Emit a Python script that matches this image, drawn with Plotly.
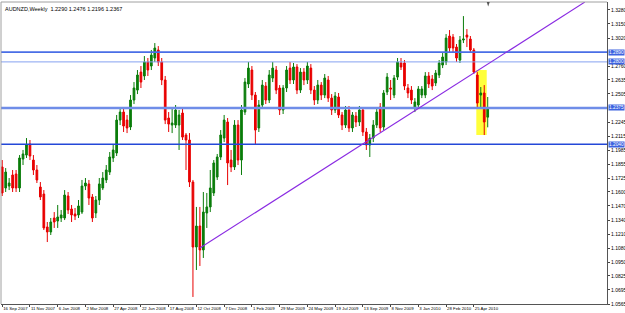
import plotly.graph_objects as go
import pandas as pd

# Weekly AUDNZD OHLC, first bar week of 16 Sep 2007
opens = [1.1830,1.1636,1.1654,1.1756,1.1765,1.1636,1.1903,1.1940,1.2042,1.1894,
         1.1802,1.1645,1.1580,1.1276,1.1230,1.1359,1.1331,1.1359,1.1359,1.1562,
         1.1442,1.1396,1.1387,1.1414,1.1654,1.1673,1.1553,1.1405,1.1525,1.1636,
         1.1710,1.1783,1.1913,1.1959,1.2263,1.2337,1.2263,1.2199,1.2448,1.2540,
         1.2706,1.2670,1.2799,1.2762,1.2836,1.2910,1.2799,1.2633,1.2282,1.2217,
         1.2217,1.2217,1.2328,1.2125,1.2079,1.1691,1.1091,1.1285,1.1064,1.1405,
         1.1461,1.1590,1.1737,1.1922,1.2097,1.2245,1.1894,1.1830,1.2217,1.1894,
         1.2337,1.2596,1.2725,1.2494,1.2190,1.2402,1.2577,1.2448,1.2651,1.2725,
         1.2559,1.2356,1.2559,1.2743,1.2633,1.2753,1.2540,1.2706,1.2633,1.2743,
         1.2540,1.2448,1.2586,1.2494,1.2633,1.2466,1.2356,1.2476,1.2310,1.2217,
         1.2356,1.2190,1.2300,1.2245,1.2356,1.2153,1.2033,1.2097,1.2217,1.2383,
         1.2199,1.2522,1.2559,1.2494,1.2660,1.2790,1.2790,1.2559,1.2540,1.2374,
         1.2402,1.2494,1.2494,1.2670,1.2642,1.2605,1.2679,1.2771,1.2799,1.3039,
         1.3029,1.2937,1.2817,1.3002,1.3048,1.3011,1.2910,1.2679,1.2494,1.2513,
         1.2290]
highs = [1.1894,1.1820,1.1728,1.1802,1.1802,1.1940,1.1987,1.2097,1.2079,1.1940,
         1.1848,1.1691,1.1617,1.1322,1.1359,1.1414,1.1479,1.1433,1.1617,1.1599,
         1.1479,1.1451,1.1525,1.1710,1.1728,1.1710,1.1580,1.1562,1.1728,1.1783,
         1.1848,1.1968,1.2042,1.2310,1.2374,1.2374,1.2310,1.2494,1.2614,1.2725,
         1.2762,1.2854,1.2836,1.2910,1.2974,1.2946,1.2836,1.2670,1.2337,1.2374,
         1.2402,1.2356,1.2374,1.2143,1.2143,1.1710,1.1461,1.1461,1.1599,1.1590,
         1.1802,1.1894,1.1950,1.2171,1.2310,1.2282,1.1987,1.2263,1.2263,1.2402,
         1.2651,1.2799,1.2762,1.2522,1.2448,1.2633,1.2614,1.2725,1.2799,1.2762,
         1.2586,1.2586,1.2762,1.2799,1.2790,1.2780,1.2743,1.2743,1.2799,1.2780,
         1.2577,1.2633,1.2614,1.2688,1.2670,1.2503,1.2522,1.2513,1.2337,1.2393,
         1.2393,1.2337,1.2337,1.2393,1.2383,1.2190,1.2134,1.2263,1.2374,1.2420,
         1.2540,1.2697,1.2633,1.2679,1.2836,1.2836,1.2817,1.2596,1.2577,1.2466,
         1.2577,1.2577,1.2706,1.2706,1.2679,1.2725,1.2817,1.2882,1.3057,1.3094,
         1.3057,1.2965,1.3039,1.3223,1.3103,1.3039,1.2928,1.2706,1.2568,1.2586,
         1.2476]
lows = [1.1562,1.1599,1.1617,1.1599,1.1599,1.1599,1.1848,1.1913,1.1894,1.1756,
        1.1682,1.1525,1.1248,1.1137,1.1202,1.1267,1.1267,1.1322,1.1340,1.1396,
        1.1322,1.1340,1.1359,1.1396,1.1617,1.1479,1.1322,1.1359,1.1479,1.1617,
        1.1682,1.1756,1.1876,1.1931,1.2217,1.2153,1.2143,1.2171,1.2411,1.2503,
        1.2559,1.2633,1.2670,1.2725,1.2799,1.2762,1.2586,1.2226,1.2153,1.2143,
        1.2190,1.1987,1.2079,1.1802,1.1645,1.0630,1.0879,1.0916,1.0990,1.1267,
        1.1414,1.1562,1.1710,1.1894,1.2060,1.1663,1.1783,1.1802,1.1848,1.1756,
        1.2310,1.2559,1.2448,1.2033,1.2153,1.2374,1.2411,1.2420,1.2614,1.2503,
        1.2310,1.2319,1.2522,1.2596,1.2596,1.2503,1.2513,1.2586,1.2596,1.2503,
        1.2402,1.2411,1.2448,1.2466,1.2430,1.2310,1.2328,1.2282,1.2171,1.2190,
        1.2153,1.2153,1.2199,1.2208,1.2116,1.1987,1.1922,1.2060,1.2190,1.2153,
        1.2171,1.2494,1.2448,1.2466,1.2633,1.2725,1.2540,1.2466,1.2411,1.2337,
        1.2374,1.2466,1.2466,1.2559,1.2540,1.2577,1.2651,1.2743,1.2771,1.2891,
        1.2891,1.2799,1.2790,1.2974,1.2937,1.2882,1.2688,1.2383,1.2383,1.2125,
        1.2196]
closes = [1.1590,1.1783,1.1682,1.1636,1.1636,1.1913,1.1950,1.2033,1.1931,1.1802,
          1.1710,1.1553,1.1267,1.1230,1.1322,1.1322,1.1368,1.1387,1.1571,1.1433,
          1.1387,1.1377,1.1470,1.1654,1.1682,1.1543,1.1359,1.1525,1.1673,1.1728,
          1.1802,1.1922,1.1987,1.2263,1.2337,1.2208,1.2190,1.2448,1.2559,1.2679,
          1.2614,1.2799,1.2725,1.2863,1.2928,1.2799,1.2633,1.2263,1.2226,1.2236,
          1.2356,1.2310,1.2106,1.2079,1.1691,1.1091,1.1285,1.1064,1.1414,1.1461,
          1.1636,1.1867,1.1922,1.2125,1.2263,1.1867,1.1830,1.2217,1.1894,1.2356,
          1.2614,1.2743,1.2494,1.2171,1.2402,1.2586,1.2448,1.2679,1.2743,1.2540,
          1.2356,1.2559,1.2725,1.2633,1.2753,1.2540,1.2706,1.2633,1.2762,1.2540,
          1.2448,1.2586,1.2494,1.2651,1.2466,1.2356,1.2485,1.2310,1.2217,1.2356,
          1.2190,1.2310,1.2245,1.2356,1.2153,1.2033,1.2097,1.2217,1.2337,1.2190,
          1.2513,1.2660,1.2550,1.2651,1.2799,1.2753,1.2577,1.2513,1.2448,1.2430,
          1.2550,1.2550,1.2670,1.2596,1.2577,1.2697,1.2790,1.2845,1.3020,1.2928,
          1.2928,1.2836,1.3002,1.3011,1.3029,1.2910,1.2706,1.2420,1.2513,1.2245,
          1.2367]

start_date = "2007-09-16"
dates = pd.date_range(start_date, periods=len(opens), freq="7D")

tick_dates = ["2007-09-16","2007-11-11","2008-01-06","2008-03-02","2008-04-27",
              "2008-06-22","2008-08-17","2008-10-12","2008-12-07","2009-02-01",
              "2009-03-29","2009-05-24","2009-07-19","2009-09-13","2009-11-08",
              "2010-01-03","2010-02-28","2010-04-25"]
tick_labels = ["16 Sep 2007","11 Nov 2007","6 Jan 2008","2 Mar 2008","27 Apr 2008",
               "22 Jun 2008","17 Aug 2008","12 Oct 2008","7 Dec 2008","1 Feb 2009",
               "29 Mar 2009","24 May 2009","19 Jul 2009","13 Sep 2009","8 Nov 2009",
               "3 Jan 2010","28 Feb 2010","25 Apr 2010"]

# price scale labels (those hidden under the level boxes are left out)
price_ticks = [1.0565,1.0695,1.0825,1.0950,1.1080,1.1210,1.1340,1.1470,1.1600,1.1725,
               1.1855,1.1985,1.2115,1.2245,1.2505,1.2635,1.2760,1.3020,
               1.3150,1.3280]
price_tick_labels = [f"{v:.4f}" for v in price_ticks]

levels = [1.2890, 1.2800, 1.2375, 1.2040]
level_labels = ["1.2890", "1.2800", "1.2375", "1.2040"]

trend_dates = ["2008-10-19", "2010-12-05"]
trend_prices = [1.1082, 1.3352]

box_dates = ["2010-04-30", "2010-05-21"]
box_prices = [1.2125, 1.2725]

title_text = "AUDNZD,Weekly  1.2290 1.2476 1.2196 1.2367"

FONT = "Liberation Sans"

fig = go.Figure()
fig.add_trace(go.Candlestick(
    x=dates, open=opens, high=highs, low=lows, close=closes,
    increasing=dict(line=dict(color="#0a7d0a", width=1), fillcolor="#0a7d0a"),
    decreasing=dict(line=dict(color="#e80000", width=1), fillcolor="#e80000"),
    whiskerwidth=0, showlegend=False, hoverinfo="skip",
))

shapes = []
shapes.append(dict(type="rect", xref="x", yref="y", x0=box_dates[0], x1=box_dates[1],
                   y0=box_prices[0], y1=box_prices[1], fillcolor="#ffff3a",
                   line=dict(width=0), layer="below"))
level_styles = [("#4a6ee6", 1.6), ("#86a2f0", 1.0), ("#6f8de8", 2.6), ("#2448d8", 1.5)]
for lv, (col, w) in zip(levels, level_styles):
    shapes.append(dict(type="line", xref="paper", yref="y", x0=0, x1=1, y0=lv, y1=lv,
                       line=dict(color=col, width=w), layer="above"))
shapes.append(dict(type="line", xref="x", yref="y", x0=trend_dates[0], x1=trend_dates[1],
                   y0=trend_prices[0], y1=trend_prices[1],
                   line=dict(color="#8a2be2", width=1.2), layer="above"))
# window frame (top / left)
shapes.append(dict(type="line", xref="paper", yref="paper", x0=0, x1=1, y0=1, y1=1,
                   line=dict(color="#a0a0a0", width=1)))
shapes.append(dict(type="line", xref="paper", yref="paper", x0=0, x1=0, y0=0, y1=1,
                   line=dict(color="#a0a0a0", width=1)))
# chart shift marker at top
shapes.append(dict(type="path", xref="x", yref="paper",
                   path="M 2010-05-21,1 L 2010-05-27,1 L 2010-05-24,0.985 Z",
                   fillcolor="#555", line=dict(width=0)))

annotations = [dict(xref="paper", yref="paper", x=0.004, y=0.995, xanchor="left", yanchor="top",
                    text=title_text, showarrow=False, font=dict(family=FONT, size=5.5, color="#000"))]
for lv, lab in zip(levels, level_labels):
    annotations.append(dict(xref="paper", yref="y", x=1, y=lv, xanchor="left", yanchor="middle",
                            text=lab, showarrow=False, bgcolor="#3d63e0", borderpad=0,
                            xshift=1, font=dict(family=FONT, size=4.8, color="#fff")))

week = pd.Timedelta(days=7)
x_start = dates[0] - 0.35 * week
x_end = dates[0] + 174.4 * week

fig.update_layout(
    width=625, height=313,
    margin=dict(l=1, r=18, t=2, b=9, autoexpand=False),
    paper_bgcolor="#fff", plot_bgcolor="#fff",
    shapes=shapes, annotations=annotations,
    xaxis=dict(type="date", range=[x_start, x_end], rangeslider=dict(visible=False),
               tickvals=tick_dates, ticktext=tick_labels, ticks="outside", ticklen=2,
               tickangle=0, automargin=False,
               tickcolor="#444", ticklabelposition="outside right",
               showgrid=False, zeroline=False, showline=True, linecolor="#555", linewidth=1,
               tickfont=dict(family=FONT, size=4.3, color="#000")),
    yaxis=dict(range=[1.0565, 1.3353], side="right", tickvals=price_ticks, ticktext=price_tick_labels,
               ticks="outside", ticklen=2, tickcolor="#444", showgrid=False, zeroline=False,
               automargin=False,
               showline=True, linecolor="#555", linewidth=1,
               tickfont=dict(family=FONT, size=5, color="#000")),
    hovermode=False,
)

fig.write_html("out.html")
